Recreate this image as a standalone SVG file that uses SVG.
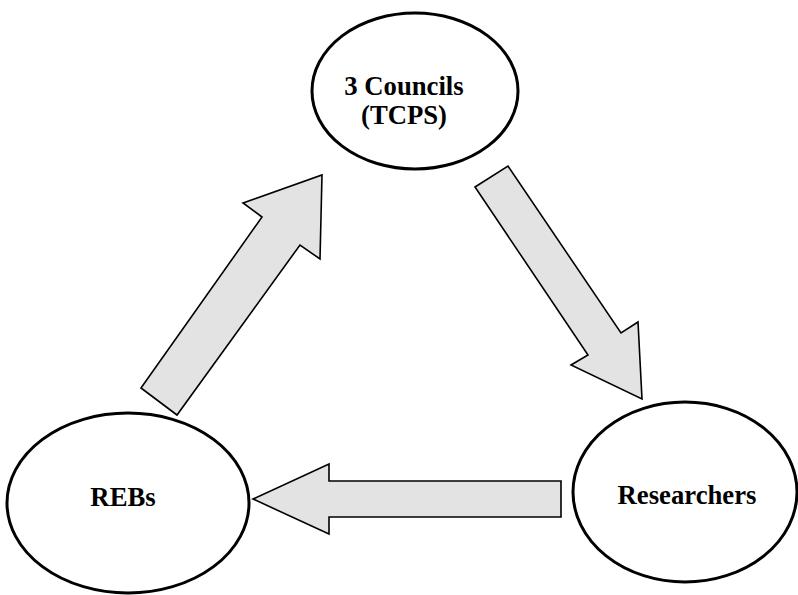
<svg xmlns="http://www.w3.org/2000/svg" width="798" height="595" viewBox="0 0 798 595">
<style>
.node{fill:#fff;stroke:#000;stroke-width:3}
.arr{fill:#e3e3e3;stroke:#000;stroke-width:1.6;stroke-linejoin:miter}
.lbl{font-family:"Liberation Serif","Times New Roman",serif;font-weight:bold;font-size:26.7px;fill:#000;text-anchor:middle}
</style>
<rect width="798" height="595" fill="#fff"/>
<g id="connectors">
<polygon class="arr" points="141,388 262,217 243,203 322,175 320,259 300,245 177,415"/>
<polygon class="arr" points="475,187 508,166 621,333 638,322 642,399 571,365 588,355"/>
<polygon class="arr" points="561,481 329,481 329,464 253,499 329,534 329,517 561,517"/>
</g>
<g id="councils">
<ellipse class="node" cx="415" cy="91" rx="103" ry="78"/>
<text class="lbl" x="404" y="95">3 Councils</text>
<text class="lbl" x="404" y="124">(TCPS)</text>
</g>
<g id="researchers">
<ellipse class="node" cx="685" cy="492" rx="112" ry="90"/>
<text class="lbl" x="687" y="504">Researchers</text>
</g>
<g id="rebs">
<ellipse class="node" cx="128" cy="503" rx="121" ry="90"/>
<text class="lbl" x="123" y="506">REBs</text>
</g>
</svg>
